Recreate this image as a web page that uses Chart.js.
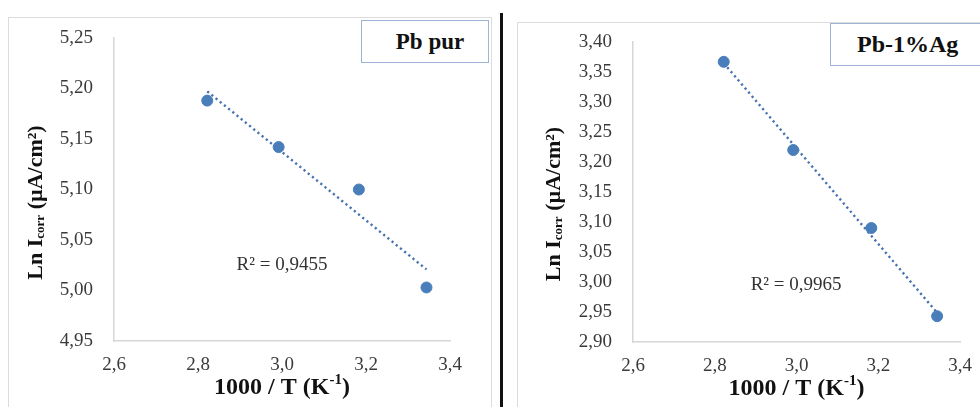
<!DOCTYPE html>
<html>
<head>
<meta charset="utf-8">
<script src="https://cdn.jsdelivr.net/npm/chart.js@4.4.1/dist/chart.umd.min.js"></script>
<style>
  body { margin: 0; background: #fff; width: 980px; height: 407px; overflow: hidden; position: relative; font-family: 'Liberation Serif', serif; }
  .frame { position: absolute; border: 1px solid #dcdcdc; border-bottom: none; background: #fff; }
  .frame canvas { position: absolute; left: 0; top: 0; }
  .tag { position: absolute; border: 1.5px solid #9db4d6; background: #fff; font-weight: bold; font-size: 23px; color: #111;
         display: flex; align-items: center; justify-content: center; box-sizing: border-box; }
  #divider { position: absolute; left: 500px; top: 13px; width: 3px; height: 394px; background: #111; }
</style>
</head>
<body>
<div class="frame" id="frameA" style="left:8px; top:17px; width:482px; height:390px;"><canvas id="chartA"></canvas></div>
<div class="frame" id="frameB" style="left:517px; top:22px; width:470px; height:385px;"><canvas id="chartB"></canvas></div>
<div class="tag" style="left:361px; top:20px; width:128px; height:43px; padding-left:10px;">Pb pur</div>
<div class="tag" style="left:830px; top:23px; width:160px; height:43px; justify-content:flex-start; padding-left:26px; font-size:24px;">Pb-1%Ag</div>
<div id="divider"></div>

<script>
// 1000/T values
const invTemp = [2.822, 2.992, 3.183, 3.344];
const lnIcorrPb = [5.188, 5.142, 5.100, 5.003];
const lnIcorrPbAg = [3.367, 3.220, 3.090, 2.943];
const r2Pb = 'R² = 0,9455';
const r2PbAg = 'R² = 0,9965';

const xTicks = [2.6, 2.8, 3.0, 3.2, 3.4];
const yTicksPb = [4.95, 5.00, 5.05, 5.10, 5.15, 5.20, 5.25];
const yTicksPbAg = [2.90, 2.95, 3.00, 3.05, 3.10, 3.15, 3.20, 3.25, 3.30, 3.35, 3.40];

const dotBlue = '#4a7ebb';
const tickColor = '#3a3a3a';
const serif = "'Liberation Serif', 'DejaVu Serif', serif";
Chart.defaults.font.family = serif;

// least squares line, like the Excel trendline
function trend(xs, ys) {
    const n = xs.length;
    const mx = xs.reduce((a, b) => a + b, 0) / n;
    const my = ys.reduce((a, b) => a + b, 0) / n;
    let sxy = 0, sxx = 0;
    xs.forEach((x, i) => { sxy += (x - mx) * (ys[i] - my); sxx += (x - mx) * (x - mx); });
    const k = sxy / sxx;
    const first = xs[0], last = xs[n - 1];
    return [{ x: first, y: my + k * (first - mx) }, { x: last, y: my + k * (last - mx) }];
}

const fmt = v => v.toFixed(2).replace('.', ',');
const fmtX = v => v.toFixed(1).replace('.', ',');

// axis titles and R² text
const labelsPlugin = {
    id: 'labels',
    afterDraw(chart, args, opts) {
        const ctx = chart.ctx;
        const area = chart.chartArea;
        ctx.save();
        ctx.fillStyle = '#111';
        ctx.textBaseline = 'middle';
        ctx.textAlign = 'left';
        // x title
        const big = 'bold 24px ' + serif, small = 'bold 15px ' + serif;
        const xt = '1000 / T (K', sup = '-1', tail = ')';
        ctx.font = big;
        const w1 = ctx.measureText(xt).width, w3 = ctx.measureText(tail).width;
        ctx.font = small;
        const w2 = ctx.measureText(sup).width;
        const sx = (area.left + area.right) / 2 - (w1 + w2 + w3) / 2;
        const ty = area.bottom + opts.xTitleGap;
        ctx.font = big;
        ctx.fillText(xt, sx, ty);
        ctx.fillText(tail, sx + w1 + w2, ty);
        ctx.font = small;
        ctx.fillText(sup, sx + w1, ty - 8);

        // y title with subscript
        ctx.translate(opts.yTitleX, (area.top + area.bottom) / 2 + opts.yTitleShift);
        ctx.rotate(-Math.PI / 2);
        const yBig = 'bold 22px ' + serif, ySmall = 'bold 13px ' + serif;
        const p1 = 'Ln I', p2 = 'corr', p3 = ' (µA/cm²)';
        ctx.font = yBig;
        const a1 = ctx.measureText(p1).width, a3 = ctx.measureText(p3).width;
        ctx.font = ySmall;
        const a2 = ctx.measureText(p2).width;
        const px = -(a1 + a2 + a3) / 2;
        ctx.font = yBig;
        ctx.fillText(p1, px, 0);
        ctx.fillText(p3, px + a1 + a2, 0);
        ctx.font = ySmall;
        ctx.fillText(p2, px + a1, 5);
        ctx.restore();

        // R² label placed in data space
        ctx.save();
        ctx.font = '19px ' + serif;
        ctx.fillStyle = '#333';
        ctx.textAlign = 'center';
        ctx.textBaseline = 'middle';
        ctx.fillText(opts.r2, chart.scales.x.getPixelForValue(opts.r2At[0]), chart.scales.y.getPixelForValue(opts.r2At[1]));
        ctx.restore();
    }
};

function makeChart(id, ys, yTicks, r2, r2At, geo) {
    const yMin = yTicks[0], yMax = yTicks[yTicks.length - 1];
    new Chart(document.getElementById(id), {
        type: 'scatter',
        data: {
            datasets: [{
                data: invTemp.map((x, i) => ({ x: x, y: ys[i] })),
                backgroundColor: dotBlue,
                borderColor: dotBlue,
                pointRadius: 5.5,
                pointHoverRadius: 5.5,
                order: 1
            }, {
                type: 'line',
                data: trend(invTemp, ys),
                borderColor: '#4672b0',
                borderWidth: 2.4,
                borderDash: [2.2, 3.2],
                pointRadius: 0,
                fill: false,
                order: 2
            }]
        },
        options: {
            responsive: false,
            animation: false,
            devicePixelRatio: 1,
            layout: { padding: { top: geo.top, right: geo.right, left: 0, bottom: 0 } },
            plugins: {
                legend: { display: false },
                tooltip: { enabled: false },
                labels: { r2: r2, r2At: r2At, xTitleGap: 47, yTitleX: geo.yTitleX, yTitleShift: geo.yTitleShift }
            },
            scales: {
                x: {
                    type: 'linear',
                    min: 2.6, max: 3.4,
                    afterBuildTicks: s => { s.ticks = xTicks.map(v => ({ value: v })); },
                    afterFit: s => { s.height = geo.xHeight; s.paddingLeft = 0; s.paddingRight = 0; },
                    grid: { display: false, drawTicks: false },
                    border: { color: '#d6d6d6', width: 1.5 },
                    ticks: { callback: fmtX, color: tickColor, padding: 13, font: { family: serif, size: 19 }, maxRotation: 0 }
                },
                y: {
                    type: 'linear',
                    min: yMin, max: yMax,
                    afterBuildTicks: s => { s.ticks = yTicks.map(v => ({ value: v })); },
                    afterFit: s => { s.width = geo.yWidth; s.paddingTop = 0; s.paddingBottom = 0; },
                    grid: { display: false, drawTicks: false },
                    border: { color: '#d6d6d6', width: 1.5 },
                    ticks: { callback: fmt, color: tickColor, padding: 21, font: { family: serif, size: 19 } }
                }
            }
        },
        plugins: [labelsPlugin]
    });
}

function sizeCanvas(id, w, h) {
    const c = document.getElementById(id);
    c.width = w; c.height = h;
    c.style.width = w + 'px'; c.style.height = h + 'px';
}

sizeCanvas('chartA', 482, 390);
sizeCanvas('chartB', 463, 385);

makeChart('chartA', lnIcorrPb, yTicksPb, r2Pb, [3.0, 5.025],
    { top: 20, right: 41, xHeight: 67, yWidth: 105, yTitleX: 27, yTitleShift: 13 });
makeChart('chartB', lnIcorrPbAg, yTicksPbAg, r2PbAg, [2.999, 2.995],
    { top: 19, right: 21, xHeight: 66, yWidth: 115, yTitleX: 36, yTitleShift: 12 });
</script>
</body>
</html>
